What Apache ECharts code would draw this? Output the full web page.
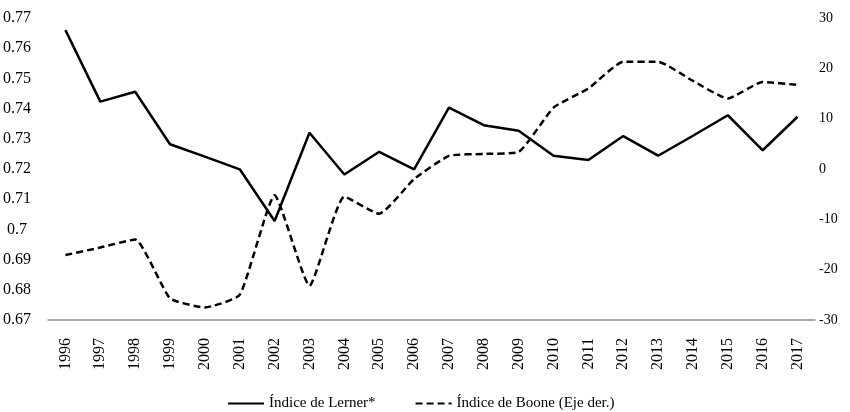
<!DOCTYPE html>
<html>
<head>
<meta charset="utf-8">
<script src="https://cdn.jsdelivr.net/npm/echarts@6/dist/echarts.min.js"></script>
<style>
html,body{margin:0;padding:0;background:#fff;}
#chart{width:850px;height:412px;}
</style>
</head>
<body>
<div id="chart"></div>
<script>
const years = ['1996','1997','1998','1999','2000','2001','2002','2003','2004','2005','2006','2007','2008','2009','2010','2011','2012','2013','2014','2015','2016','2017'];
const lerner = [0.7660,0.7423,0.7456,0.7282,0.7241,0.7199,0.7028,0.7320,0.7182,0.7257,0.7199,0.7403,0.7345,0.7327,0.7244,0.7230,0.7309,0.7244,0.7310,0.7378,0.7262,0.7373];
const boone = [-17.1,-15.6,-14.0,-25.7,-27.5,-25.0,-5.2,-23.2,-5.5,-8.9,-2.0,2.6,3.0,3.4,12.2,16.0,21.3,21.3,17.5,14.0,17.3,16.7];
const leftTicks = {min:0.67, max:0.77, interval:0.01};
const rightTicks = {min:-30, max:30, interval:10};
const names = ['Índice de Lerner*','Índice de Boone (Eje der.)'];

const chart = echarts.init(document.getElementById('chart'));
const serif = 'Liberation Serif';
chart.setOption({
  animation:false,
  backgroundColor:'#ffffff',
  grid:{left:48,right:35,top:18,bottom:92},
  legend:{
    data:names,
    left:222, top:391,
    itemWidth:36, itemHeight:14, itemGap:39,
    itemStyle:{opacity:0},
    lineStyle:{opacity:1},
    textStyle:{fontFamily:serif,fontSize:15,color:'#000'}
  },
  xAxis:{
    type:'category',
    data:years,
    boundaryGap:true,
    axisLine:{onZero:false,lineStyle:{color:'#8c8c8c',width:1.5}},
    axisTick:{show:false},
    axisLabel:{rotate:90,margin:18,fontFamily:serif,fontSize:16,color:'#000',interval:0}
  },
  yAxis:[
    {
      type:'value',
      min:leftTicks.min,max:leftTicks.max,interval:leftTicks.interval,
      axisLine:{show:false},axisTick:{show:false},
      splitLine:{show:false},
      axisLabel:{
        fontFamily:serif,fontSize:16,color:'#000',align:'center',margin:31,
        padding:[0,0,10,0],
        formatter:function(v){return String(parseFloat(v.toFixed(2)));}
      }
    },
    {
      type:'value',
      min:rightTicks.min,max:rightTicks.max,interval:rightTicks.interval,
      axisLine:{show:false},axisTick:{show:false},
      splitLine:{show:false},
      axisLabel:{fontFamily:serif,fontSize:14,color:'#000',align:'left',margin:4}
    }
  ],
  series:[
    {
      name:names[0],type:'line',yAxisIndex:0,data:lerner,
      symbol:'none',
      lineStyle:{color:'#000',width:2.5,type:'solid'},
      itemStyle:{color:'#000'}
    },
    {
      name:names[1],type:'line',yAxisIndex:1,data:boone,
      symbol:'none',smooth:0.15,
      lineStyle:{color:'#000',width:2.5,type:[7,4]},
      itemStyle:{color:'#000'}
    }
  ]
});
</script>
</body>
</html>
